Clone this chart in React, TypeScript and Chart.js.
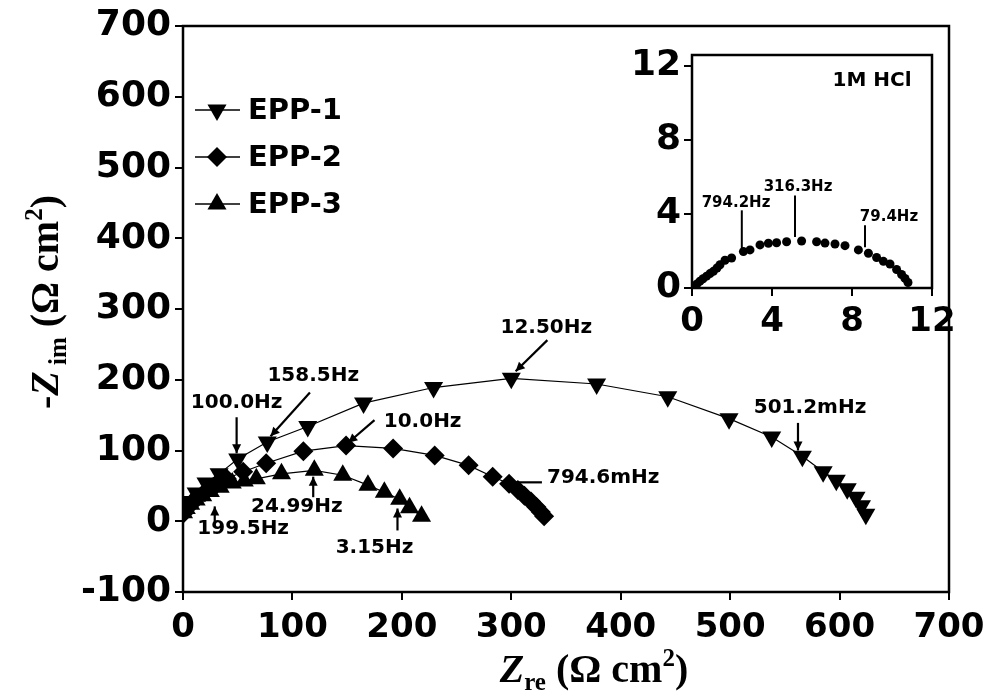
import React, { useEffect, useRef } from 'react';
import { Chart, registerables } from 'chart.js';
Chart.register(...registerables);

// ---------- Main Nyquist data (Zre, -Zim in Ω cm²) ----------
const EPP1_ZRE = [1, 5, 12, 21, 33, 50, 77, 114, 165, 229, 300, 378, 443, 499, 538, 566, 585, 597, 607, 615, 620, 624];
const EPP1_ZIM = [18, 28, 40, 54, 67, 88, 112, 134, 167, 189, 202, 194, 176, 145, 119, 92, 70, 58, 46, 34, 22, 10];

const EPP2_ZRE = [1, 4, 8, 13, 20, 29, 40, 55, 76, 110, 149, 192, 230, 261, 283, 298, 306, 312, 318, 323, 327, 330];
const EPP2_ZIM = [12, 19, 26, 33, 41, 50, 60, 70, 82, 99, 107, 103, 93, 79, 63, 53, 44, 36, 28, 20, 13, 7];

const EPP3_ZRE = [0.5, 3, 7, 12, 18, 25, 34, 45, 56, 67, 90, 120, 146, 169, 184, 198, 207, 218];
const EPP3_ZIM = [12, 18, 24, 30, 36, 42, 48, 54, 57, 60, 67, 72, 65, 51, 41, 31, 19, 7];

const SERIES_NAMES = ['EPP-1', 'EPP-2', 'EPP-3'];

const MAIN_X_TICKS = [0, 100, 200, 300, 400, 500, 600, 700];
const MAIN_Y_TICKS = [-100, 0, 100, 200, 300, 400, 500, 600, 700];

// frequency annotations: label, text anchor (data), line start, line end (data)
const MAIN_NOTE_TEXT = ['100.0Hz', '158.5Hz', '10.0Hz', '12.50Hz', '501.2mHz', '794.6mHz', '24.99Hz', '199.5Hz', '3.15Hz'];
const MAIN_NOTE_TX = [49, 119, 219, 332, 573, 384, 104, 55, 175];
const MAIN_NOTE_TY = [168, 206, 141, 274, 160, 61, 20, -11, -38];
const MAIN_NOTE_X1 = [49, 116, 175, 333, 562, 301, 119, 29, 196];
const MAIN_NOTE_Y1 = [147, 182, 143, 256, 139, 55, 34, -3, -13];
const MAIN_NOTE_X2 = [49, 80, 151, 304, 562, 328, 119, 29, 196];
const MAIN_NOTE_Y2 = [96, 120, 111, 212, 100, 55, 63, 21, 18];
const MAIN_NOTE_HEAD = [true, true, true, true, true, false, true, true, true];

// ---------- Inset (1M HCl blank) ----------
const INSET_ZRE = [0.05, 0.15, 0.25, 0.4, 0.55, 0.73, 0.9, 1.07, 1.25, 1.4, 1.65, 1.98, 2.57, 2.9, 3.4, 3.82, 4.23, 4.73, 5.48, 6.23, 6.65, 7.15, 7.65, 8.32, 8.82, 9.23, 9.57, 9.9, 10.23, 10.48, 10.65, 10.8];
const INSET_ZIM = [0.05, 0.12, 0.22, 0.37, 0.5, 0.64, 0.78, 0.9, 1.08, 1.26, 1.5, 1.62, 1.97, 2.06, 2.33, 2.42, 2.45, 2.5, 2.54, 2.5, 2.43, 2.38, 2.29, 2.06, 1.88, 1.65, 1.44, 1.3, 1.0, 0.73, 0.52, 0.3];
const INSET_TITLE = '1M HCl';
const INSET_NOTE_TEXT = ['794.2Hz', '316.3Hz', '79.4Hz'];
const INSET_NOTE_TX = [2.2, 5.3, 9.85];
const INSET_NOTE_TY = [4.6, 5.46, 3.84];
const INSET_NOTE_X = [2.49, 5.15, 8.65];
const INSET_NOTE_Y1 = [4.2, 5.0, 3.4];
const INSET_NOTE_Y2 = [1.95, 2.76, 2.2];

const toPts = (xs: number[], ys: number[]) => xs.map((x, i) => ({ x, y: ys[i] }));

const Y_TICK_FONT = { family: 'DejaVu Sans', weight: 'bold' as const, size: 36 };
const X_TICK_FONT = { family: 'DejaVu Sans', weight: 'bold' as const, size: 34 };

function drawMarker(ctx: CanvasRenderingContext2D, style: string, x: number, y: number, r: number) {
  ctx.beginPath();
  if (style === 'down') {
    for (let k = 0; k < 3; k++) {
      const a = Math.PI + k * (2 * Math.PI / 3);
      const px = x + Math.sin(a) * r, py = y - Math.cos(a) * r;
      k === 0 ? ctx.moveTo(px, py) : ctx.lineTo(px, py);
    }
  } else if (style === 'up') {
    for (let k = 0; k < 3; k++) {
      const a = k * (2 * Math.PI / 3);
      const px = x + Math.sin(a) * r, py = y - Math.cos(a) * r;
      k === 0 ? ctx.moveTo(px, py) : ctx.lineTo(px, py);
    }
  } else {
    ctx.moveTo(x, y - r); ctx.lineTo(x + r, y); ctx.lineTo(x, y + r); ctx.lineTo(x - r, y);
  }
  ctx.closePath();
  ctx.fill();
}

function drawArrow(ctx: CanvasRenderingContext2D, x1: number, y1: number, x2: number, y2: number, head: boolean, lw: number) {
  ctx.lineWidth = lw;
  ctx.beginPath();
  ctx.moveTo(x1, y1);
  ctx.lineTo(x2, y2);
  ctx.stroke();
  if (head) {
    const ang = Math.atan2(y2 - y1, x2 - x1);
    const L = 9, W = 4.5;
    ctx.beginPath();
    ctx.moveTo(x2, y2);
    ctx.lineTo(x2 - L * Math.cos(ang) + W * Math.sin(ang), y2 - L * Math.sin(ang) - W * Math.cos(ang));
    ctx.lineTo(x2 - L * Math.cos(ang) - W * Math.sin(ang), y2 - L * Math.sin(ang) + W * Math.cos(ang));
    ctx.closePath();
    ctx.fill();
  }
}

type Part = { t: string; font: string; dy: number };
function drawRich(ctx: CanvasRenderingContext2D, parts: Part[], cx: number, cy: number, rotate: boolean) {
  ctx.save();
  ctx.translate(cx, cy);
  if (rotate) ctx.rotate(-Math.PI / 2);
  let total = 0;
  for (const p of parts) { ctx.font = p.font; total += ctx.measureText(p.t).width; }
  let xx = -total / 2;
  ctx.textAlign = 'left';
  ctx.textBaseline = 'alphabetic';
  for (const p of parts) {
    ctx.font = p.font;
    ctx.fillText(p.t, xx, p.dy);
    xx += ctx.measureText(p.t).width;
  }
  ctx.restore();
}

const mainDecor = {
  id: 'mainDecor',
  afterDraw(chart: any) {
    const { ctx, chartArea: a, scales } = chart;
    const sx = scales.x, sy = scales.y;
    ctx.save();
    ctx.fillStyle = '#000';
    ctx.strokeStyle = '#000';
    ctx.lineWidth = 2.5;
    ctx.strokeRect(a.left, a.top, a.right - a.left, a.bottom - a.top);

    // frequency annotations
    ctx.font = 'bold 20px "DejaVu Sans"';
    ctx.textAlign = 'center';
    ctx.textBaseline = 'middle';
    MAIN_NOTE_TEXT.forEach((t, i) => {
      ctx.fillText(t, sx.getPixelForValue(MAIN_NOTE_TX[i]), sy.getPixelForValue(MAIN_NOTE_TY[i]));
      drawArrow(ctx,
        sx.getPixelForValue(MAIN_NOTE_X1[i]), sy.getPixelForValue(MAIN_NOTE_Y1[i]),
        sx.getPixelForValue(MAIN_NOTE_X2[i]), sy.getPixelForValue(MAIN_NOTE_Y2[i]),
        MAIN_NOTE_HEAD[i], 2.2);
    });

    // legend
    const styles = ['down', 'diamond', 'up'];
    const radii = [11, 10, 11];
    ctx.font = 'bold 29px "DejaVu Sans"';
    ctx.textAlign = 'left';
    ctx.textBaseline = 'middle';
    SERIES_NAMES.forEach((name, i) => {
      const ly = 110 + i * 47;
      ctx.lineWidth = 1.5;
      ctx.beginPath();
      ctx.moveTo(195, ly); ctx.lineTo(240, ly); ctx.stroke();
      drawMarker(ctx, styles[i], 217, ly, radii[i]);
      ctx.fillText(name, 248, ly + 1);
    });

    // axis titles
    const big = 'bold 40px "Liberation Serif"';
    const bigI = 'italic bold 40px "Liberation Serif"';
    const small = 'bold 25px "Liberation Serif"';
    drawRich(ctx, [
      { t: 'Z', font: bigI, dy: 0 },
      { t: 're', font: small, dy: 8 },
      { t: ' (Ω cm', font: big, dy: 0 },
      { t: '2', font: small, dy: -16 },
      { t: ')', font: big, dy: 0 },
    ], 594, 682, false);
    drawRich(ctx, [
      { t: '-', font: big, dy: 0 },
      { t: 'Z', font: bigI, dy: 0 },
      { t: ' im', font: small, dy: 8 },
      { t: ' (Ω cm', font: big, dy: 0 },
      { t: '2', font: small, dy: -16 },
      { t: ')', font: big, dy: 0 },
    ], 58, 302, true);
    ctx.restore();
  },
};

const insetDecor = {
  id: 'insetDecor',
  afterDraw(chart: any) {
    const { ctx, chartArea: a, scales } = chart;
    const sx = scales.x, sy = scales.y;
    ctx.save();
    ctx.fillStyle = '#000';
    ctx.strokeStyle = '#000';
    ctx.lineWidth = 2.5;
    ctx.strokeRect(a.left, a.top, a.right - a.left, a.bottom - a.top);
    ctx.font = 'bold 20px "DejaVu Sans"';
    ctx.textAlign = 'center';
    ctx.textBaseline = 'middle';
    ctx.fillText(INSET_TITLE, sx.getPixelForValue(9.0), sy.getPixelForValue(11.2));
    ctx.font = 'bold 15px "DejaVu Sans"';
    INSET_NOTE_TEXT.forEach((t, i) => {
      ctx.fillText(t, sx.getPixelForValue(INSET_NOTE_TX[i]), sy.getPixelForValue(INSET_NOTE_TY[i]));
      drawArrow(ctx,
        sx.getPixelForValue(INSET_NOTE_X[i]), sy.getPixelForValue(INSET_NOTE_Y1[i]),
        sx.getPixelForValue(INSET_NOTE_X[i]), sy.getPixelForValue(INSET_NOTE_Y2[i]),
        false, 2);
    });
    ctx.restore();
  },
};

const axisCommon = (min: number, max: number, ticks: number[], font: any, pad: number) => ({
  type: 'linear' as const,
  min,
  max,
  afterBuildTicks: (s: any) => { s.ticks = ticks.map((v) => ({ value: v })); },
  ticks: { font, color: '#000', padding: pad, autoSkip: false, maxRotation: 0 },
  grid: { drawOnChartArea: false, drawTicks: true, tickLength: 8, color: '#000', lineWidth: 2 },
  border: { display: false },
});

const fitX = (h: number) => (s: any) => { s.height = h; s.paddingLeft = 0; s.paddingRight = 0; };
const fitY = (w: number) => (s: any) => { s.width = w; s.paddingTop = 0; s.paddingBottom = 0; };

export default function App() {
  const mainRef = useRef<HTMLCanvasElement>(null);
  const insetRef = useRef<HTMLCanvasElement>(null);

  useEffect(() => {
    const lineDs = (label: string, xs: number[], ys: number[], style: string, rot: number, r: number) => ({
      label,
      data: toPts(xs, ys),
      showLine: true,
      borderColor: '#000',
      borderWidth: 1.2,
      backgroundColor: '#000',
      pointBackgroundColor: '#000',
      pointBorderWidth: 0,
      pointStyle: style,
      rotation: rot,
      pointRadius: r,
      tension: 0,
    });

    const main = new Chart(mainRef.current!, {
      type: 'scatter',
      data: {
        datasets: [
          lineDs(SERIES_NAMES[0], EPP1_ZRE, EPP1_ZIM, 'triangle', 180, 11),
          lineDs(SERIES_NAMES[1], EPP2_ZRE, EPP2_ZIM, 'rectRot', 0, 10),
          lineDs(SERIES_NAMES[2], EPP3_ZRE, EPP3_ZIM, 'triangle', 0, 11),
        ] as any,
      },
      options: {
        animation: false,
        responsive: false,
        maintainAspectRatio: false,
        layout: { padding: { top: 26, right: 38, left: 0, bottom: 0 } },
        plugins: { legend: { display: false }, tooltip: { enabled: false } },
        scales: {
          x: { ...axisCommon(0, 700, MAIN_X_TICKS, X_TICK_FONT, 8), afterFit: fitX(101) },
          y: { ...axisCommon(-100, 700, MAIN_Y_TICKS, Y_TICK_FONT, 4), afterFit: fitY(183) },
        } as any,
      },
      plugins: [mainDecor],
    });

    const inset = new Chart(insetRef.current!, {
      type: 'scatter',
      data: {
        datasets: [{
          label: INSET_TITLE,
          data: toPts(INSET_ZRE, INSET_ZIM),
          showLine: false,
          backgroundColor: '#000',
          pointBackgroundColor: '#000',
          pointBorderWidth: 0,
          pointRadius: 4.5,
        }] as any,
      },
      options: {
        animation: false,
        responsive: false,
        maintainAspectRatio: false,
        layout: { padding: { top: 25, right: 55, left: 0, bottom: 0 } },
        plugins: { legend: { display: false }, tooltip: { enabled: false } },
        scales: {
          x: { ...axisCommon(0, 12, [0, 4, 8, 12], X_TICK_FONT, 6), afterFit: fitX(62) },
          y: { ...axisCommon(0, 12.6, [0, 4, 8, 12], Y_TICK_FONT, 3), afterFit: fitY(92) },
        } as any,
      },
      plugins: [insetDecor],
    });

    return () => { main.destroy(); inset.destroy(); };
  }, []);

  return (
    <div style={{ position: 'fixed', left: 0, top: 0, width: 987, height: 693, background: '#fff' }}>
      <canvas ref={mainRef} width={987} height={693} style={{ position: 'absolute', left: 0, top: 0 }} />
      <canvas ref={insetRef} width={387} height={320} style={{ position: 'absolute', left: 600, top: 30 }} />
    </div>
  );
}
